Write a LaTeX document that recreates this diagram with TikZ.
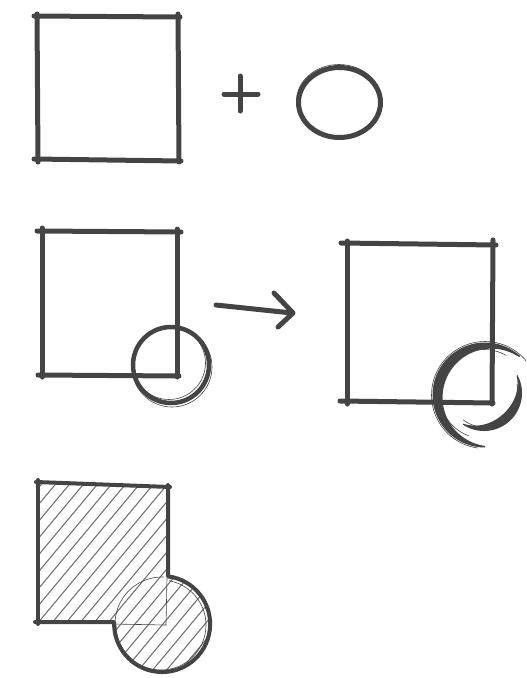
\documentclass[tikz,border=0pt]{standalone}
\definecolor{inkc}{RGB}{68,68,68}
\definecolor{hatchc}{RGB}{105,105,105}
\begin{document}
\begin{tikzpicture}[x=1pt,y=-1pt,
  ink/.style={draw=inkc,line width=5pt,line cap=round,line join=round},
  thinink/.style={draw=inkc,line width=0.6pt},
  hatchline/.style={draw=hatchc,line width=1pt}]
\useasboundingbox (0,0) rectangle (527,678);
\fill[white] (0,0) rectangle (527,678);

% ---------- Row 1: square + circle ----------
\draw[ink] (34,16) -- (180,17);
\draw[ink] (178,14) -- (179,162);
\draw[ink] (34,159) -- (181,161);
\draw[ink] (37,14) -- (38,162);
\draw[ink] (224,94) -- (258,94);
\draw[ink] (240,76) -- (240,111);
\draw[ink] (339.5,102.5) ellipse [x radius=41, y radius=35];
\draw[thinink] (339,101) ellipse [x radius=42.5, y radius=36.5];

% ---------- Row 2 left: square with overlapping circle ----------
\draw[ink] (37,231) -- (181,232);
\draw[ink] (177,229) -- (177,377);
\draw[ink] (38,375) -- (179,376);
\draw[ink] (42,228) -- (42,377);
\draw[draw=inkc,line width=4.5pt] (171,365) circle [radius=38];
\draw[thinink] (172,367) circle [radius=40];
\draw[thinink] (169,363) circle [radius=36.5];

% arrow
\draw[ink] (216,305) -- (292,313);
\draw[ink] (274,293) -- (293,313) -- (278,327);

% ---------- Row 2 right: square with split circle ----------
\draw[ink] (341,243) -- (496,245);
\draw[ink] (493,240) -- (492,404);
\draw[ink] (340,401) -- (493,403);
\draw[ink] (347,241) -- (347,404);
% big C arc, tapered
\fill[inkc] plot[domain=-48:-270,samples=60] ({485+52.5*cos(\x)},{395+52.5*sin(\x)})
  -- plot[domain=-270:-48,samples=60] ({485+(51-9*sin((\x+48)*(-0.8108)))*cos(\x)},{395+(51-9*sin((\x+48)*(-0.8108)))*sin(\x)}) -- cycle;
\draw[thinink] plot[domain=-40:-262,samples=50] ({485+53.5*cos(\x)},{395+53.5*sin(\x)});
\draw[thinink] plot[domain=-60:-250,samples=50] ({484+44.5*cos(\x)},{394+44.5*sin(\x)});
% small inner crescent, tapered
\fill[inkc] plot[domain=-28:124,samples=50] ({484+38*cos(\x)},{393+38*sin(\x)})
  -- plot[domain=124:-28,samples=50] ({484+(37-8.5*sin((\x+28)*1.1842))*cos(\x)},{393+(37-8.5*sin((\x+28)*1.1842))*sin(\x)}) -- cycle;
\draw[thinink] plot[domain=-15:128,samples=40] ({484+34*cos(\x)},{393+34*sin(\x)});

% ---------- Row 3: union, hatched ----------
\begin{scope}
  \clip (38,483) -- (168,487) -- (168,576.4) arc[start angle=-83,end angle=182.4,radius=48] -- (38,622) -- cycle;
  \foreach \s in {-270,-256,...,230} {
    \draw[hatchline] (\s,690) -- (\s+260,378);
  }
\end{scope}
% thin inner construction lines
\draw[thinink] (167,578) -- (166,625) -- (112,624);
\draw[thinink] plot[domain=182:272,samples=30] ({162+47*cos(\x)},{624+47*sin(\x)});
\draw[thinink] plot[domain=-80:180,samples=60] ({161+45*cos(\x)},{625+45*sin(\x)});
% outline
\draw[draw=inkc,line width=4pt,line join=round,line cap=round]
  (36,482) -- (170,487);
\draw[draw=inkc,line width=4pt,line join=round,line cap=round]
  (168,485) -- (168,576.4) arc[start angle=-83,end angle=182.4,radius=48] -- (35,622);
\draw[draw=inkc,line width=4pt,line cap=round] (38,480) -- (38,624);
\end{tikzpicture}
\end{document}
